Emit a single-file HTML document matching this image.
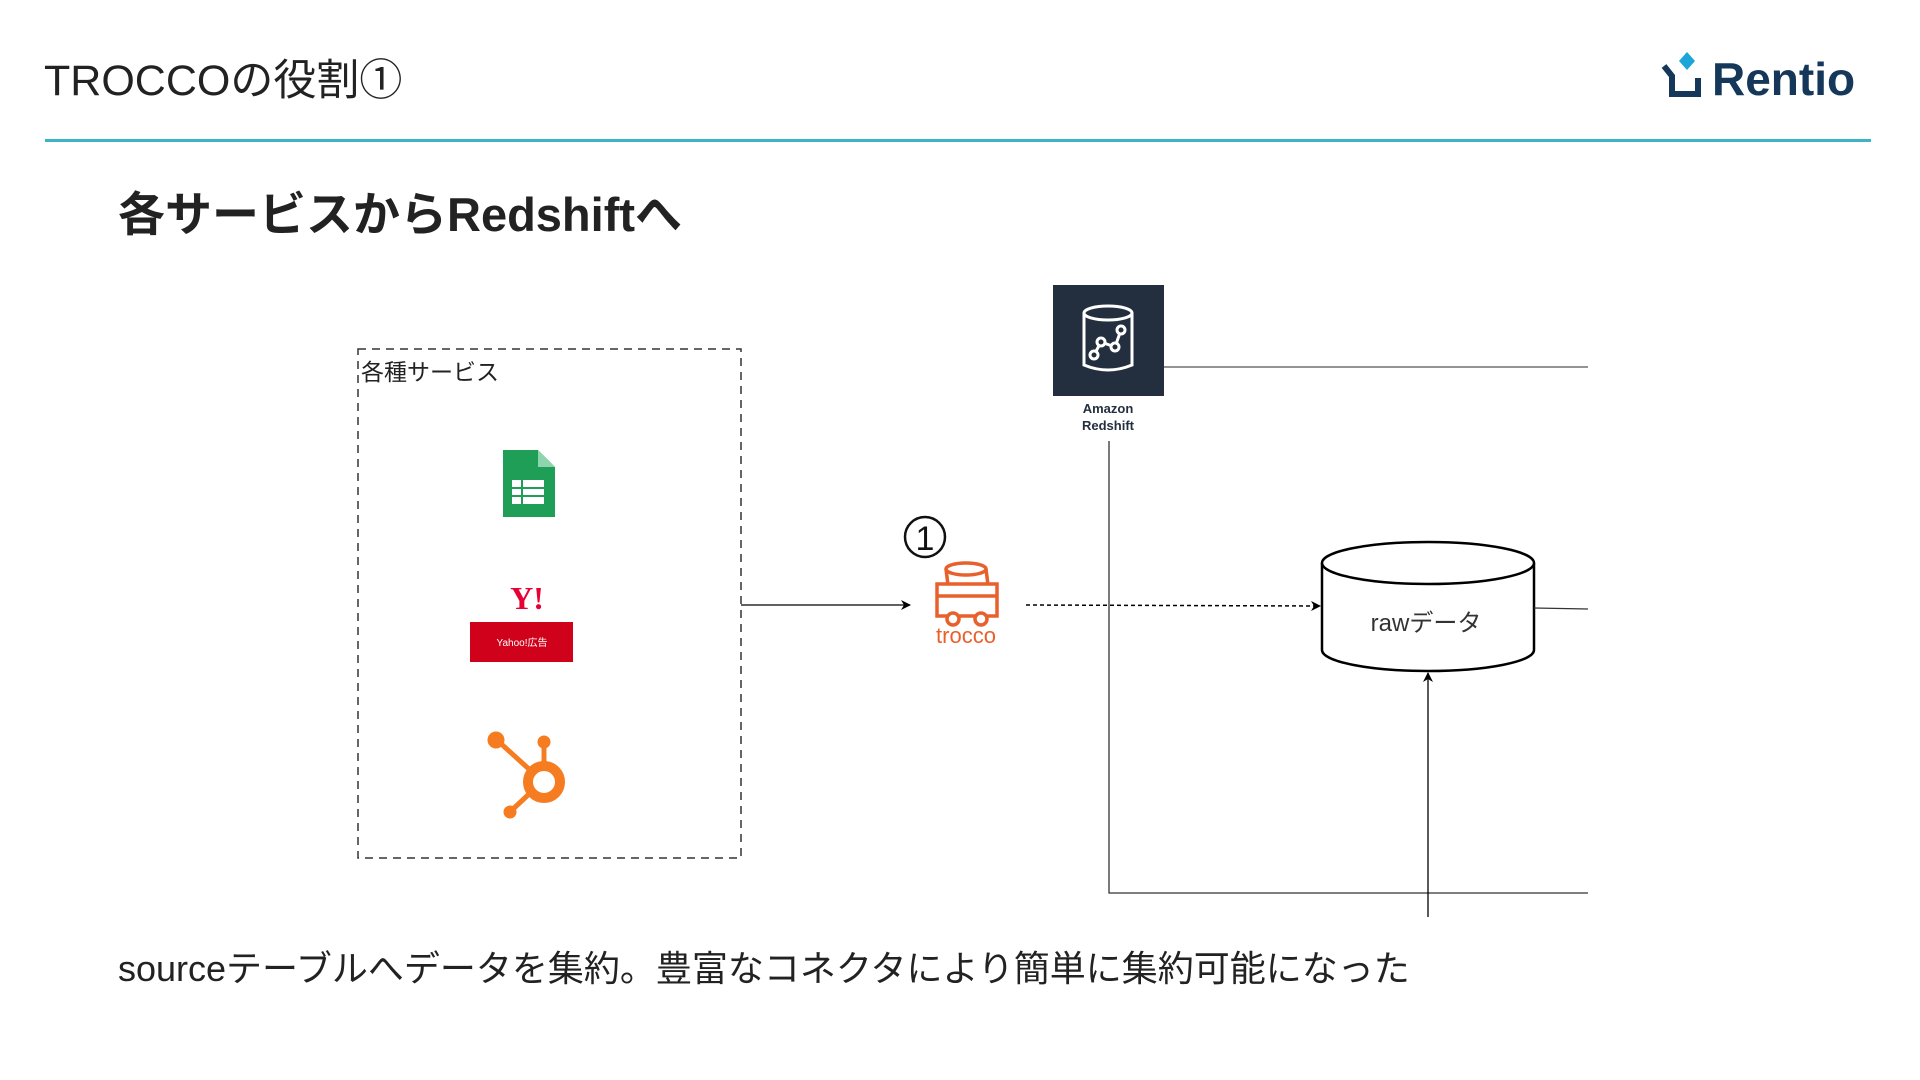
<!DOCTYPE html>
<html><head><meta charset="utf-8"><style>
html,body{margin:0;padding:0;background:#fff;}
body{width:1920px;height:1080px;position:relative;overflow:hidden;font-family:"Liberation Sans","Noto Sans CJK JP",sans-serif;color:#222;}
.t{position:absolute;white-space:nowrap;}
</style></head><body>
<div class="t" style="left:44px;top:46px;font-size:43px;color:#222;">TROCCOの役割①</div>
<div class="t" style="left:1712px;top:52px;font-size:46px;font-weight:bold;color:#14375a;">Rentio</div>
<svg style="position:absolute;left:1660px;top:52px" width="50" height="50">
<polygon points="27,0 35,9 27,18 19,9" fill="#1aa6d8"/>
<path d="M4,14 L12,24 L12,42 L38,42 L38,26" fill="none" stroke="#14375a" stroke-width="6"/>
</svg>
<div style="position:absolute;left:45px;top:139px;width:1826px;height:3px;background:#3bb4c8;"></div>
<div class="t" style="left:118px;top:176px;font-size:47px;font-weight:bold;color:#222;">各サービスからRedshiftへ</div>

<svg style="position:absolute;left:0;top:0" width="1920" height="1080">
<defs>
<marker id="a" markerWidth="10" markerHeight="10" refX="9" refY="5" orient="auto" markerUnits="userSpaceOnUse"><path d="M0,0 L10,5 L0,10 L3,5z" fill="#000"/></marker>
</defs>
<rect x="358" y="349" width="383" height="509" fill="none" stroke="#333" stroke-width="1.5" stroke-dasharray="8,6"/>
<text x="361" y="380" font-size="23" fill="#222" font-family="Liberation Sans,Noto Sans CJK JP,sans-serif">各種サービス</text>
<path d="M503,450 L538,450 L555,467 L555,517 L503,517 Z" fill="#1e9e57"/>
<path d="M538,450 L555,467 L538,467 Z" fill="#8ed5ad"/>
<rect x="512" y="480" width="32" height="24" fill="#fff"/>
<line x1="512" y1="488" x2="544" y2="488" stroke="#1e9e57" stroke-width="2"/>
<line x1="512" y1="496" x2="544" y2="496" stroke="#1e9e57" stroke-width="2"/>
<line x1="522" y1="480" x2="522" y2="504" stroke="#1e9e57" stroke-width="2"/>
<text x="527" y="609" font-size="32" font-weight="bold" fill="#e60033" text-anchor="middle" font-family="Liberation Serif,serif">Y!</text>
<rect x="470" y="622" width="103" height="40" fill="#d0021b"/>
<text x="522" y="646" font-size="10" fill="#fff" text-anchor="middle" font-family="Liberation Sans,Noto Sans CJK JP,sans-serif">Yahoo!広告</text>
<g stroke="#f57c20" fill="#f57c20">
<line x1="498" y1="741" x2="530" y2="770" stroke-width="5"/>
<line x1="544" y1="745" x2="544" y2="762" stroke-width="5"/>
<line x1="528" y1="795" x2="512" y2="810" stroke-width="5"/>
<circle cx="496" cy="740" r="8"/><circle cx="544" cy="742" r="6"/><circle cx="510" cy="812" r="6"/>
<circle cx="544" cy="782" r="16" fill="none" stroke-width="10"/>
</g>
<line x1="741" y1="605" x2="910" y2="605" stroke="#000" stroke-width="1.3" marker-end="url(#a)"/>
<circle cx="925" cy="537" r="20" fill="none" stroke="#111" stroke-width="2.5"/>
<text x="925" y="550" font-size="34" fill="#111" text-anchor="middle" font-family="Liberation Sans,sans-serif">1</text>
<g stroke="#e8612c" fill="none" stroke-width="3.5">
<ellipse cx="966" cy="569" rx="20" ry="6"/>
<path d="M946,569 L948,585 M986,569 L988,585"/>
<rect x="937" y="584" width="60" height="32"/>
<line x1="937" y1="596" x2="997" y2="596"/>
<circle cx="953" cy="619" r="6" fill="#fff"/><circle cx="981" cy="619" r="6" fill="#fff"/>
</g>
<text x="966" y="643" font-size="22" fill="#e8612c" text-anchor="middle" font-family="Liberation Sans,sans-serif">trocco</text>
<line x1="1026" y1="605" x2="1320" y2="606" stroke="#000" stroke-width="1.5" stroke-dasharray="4,3" marker-end="url(#a)"/>
<rect x="1053" y="285" width="111" height="111" fill="#232f3e"/>
<g stroke="#fff" stroke-width="3" fill="none">
<ellipse cx="1108" cy="313" rx="24" ry="7"/>
<path d="M1084,313 L1084,365 Q1108,375 1132,365 L1132,313"/>
<polyline points="1094,355 1101,342 1115,347 1121,330"/>
<circle cx="1094" cy="355" r="4" fill="#232f3e"/><circle cx="1101" cy="342" r="4" fill="#232f3e"/><circle cx="1115" cy="347" r="4" fill="#232f3e"/><circle cx="1121" cy="330" r="4" fill="#232f3e"/>
</g>
<text x="1108" y="413" font-size="13" font-weight="bold" fill="#232f3e" text-anchor="middle" font-family="Liberation Sans,sans-serif">Amazon</text>
<text x="1108" y="430" font-size="13" font-weight="bold" fill="#232f3e" text-anchor="middle" font-family="Liberation Sans,sans-serif">Redshift</text>
<line x1="1164" y1="367" x2="1588" y2="367" stroke="#555" stroke-width="1.3"/>
<polyline points="1109,441 1109,893 1588,893" fill="none" stroke="#333" stroke-width="1.3"/>
<path d="M1322,563 L1322,650 A106,21 0 0 0 1534,650 L1534,563" fill="#fff" stroke="#000" stroke-width="2.5"/>
<ellipse cx="1428" cy="563" rx="106" ry="21" fill="#fff" stroke="#000" stroke-width="2.5"/>
<text x="1426" y="631" font-size="24" fill="#333" text-anchor="middle" font-family="Liberation Sans,Noto Sans CJK JP,sans-serif">rawデータ</text>
<line x1="1534" y1="608" x2="1588" y2="609" stroke="#333" stroke-width="1.3"/>
<line x1="1428" y1="917" x2="1428" y2="673" stroke="#000" stroke-width="1.3" marker-end="url(#a)"/>
</svg>
<div class="t" style="left:118px;top:940px;font-size:36px;color:#222;">sourceテーブルへデータを集約。豊富なコネクタにより簡単に集約可能になった</div>
</body></html>
